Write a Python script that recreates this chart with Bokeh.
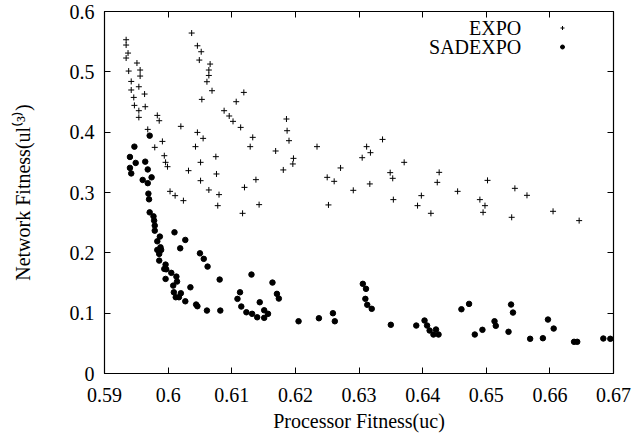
from bokeh.plotting import figure
from bokeh.models import (FixedTicker, LinearAxis, Legend, LegendItem, Label, Range1d)
from bokeh.embed import file_html
from bokeh.resources import INLINE

# ---------------- data ----------------
expo_x = [0.5934, 0.5934, 0.5937, 0.5934, 0.5951, 0.5938, 0.5956, 0.5942, 0.5956, 0.5942,
          0.5954, 0.5946, 0.5963, 0.5947, 0.5964, 0.5954, 0.5954, 0.5983, 0.5986, 0.5968,
          0.5991, 0.5979, 0.5994, 0.5996, 0.5999, 0.6003, 0.6011, 0.6024, 0.6037, 0.6046,
          0.6052, 0.6049, 0.6066, 0.6064, 0.6064, 0.6061, 0.6069, 0.6053, 0.6088, 0.6096,
          0.6102, 0.6107, 0.6119, 0.6114, 0.6133, 0.6129, 0.6020, 0.6046, 0.6055, 0.6043,
          0.6075, 0.6051, 0.6032, 0.6076, 0.6051, 0.6064, 0.6080, 0.6120, 0.6138, 0.6078,
          0.6117, 0.6143, 0.6186, 0.6187, 0.6190, 0.6169, 0.6234, 0.6197, 0.6196, 0.6181,
          0.6271, 0.6250, 0.6261, 0.6252, 0.6291, 0.6337, 0.6312, 0.6318, 0.6305, 0.6371,
          0.6349, 0.6353, 0.6317, 0.6354, 0.6426, 0.6423, 0.6398, 0.6392, 0.6413, 0.6502,
          0.6455, 0.6490, 0.6498, 0.6495, 0.6545, 0.6564, 0.6540, 0.6605, 0.6646]
expo_y = [0.5532, 0.5444, 0.5311, 0.5229, 0.5146, 0.5013, 0.5030, 0.4841, 0.4930, 0.4699,
          0.4753, 0.4576, 0.4632, 0.4444, 0.4422, 0.4356, 0.4245, 0.4278, 0.4190, 0.4046,
          0.3847, 0.3748, 0.3610, 0.3500, 0.3428, 0.3019, 0.2948, 0.2865, 0.5643, 0.5432,
          0.5333, 0.5195, 0.5129, 0.5030, 0.4940, 0.4836, 0.4687, 0.4543, 0.4356, 0.4268,
          0.4179, 0.4505, 0.4659, 0.4079, 0.3914, 0.3760, 0.4096, 0.3996, 0.3897, 0.3760,
          0.3594, 0.3500, 0.3362, 0.3307, 0.3196, 0.3042, 0.2965, 0.3085, 0.3213, 0.2782,
          0.2655, 0.2799, 0.4218, 0.4024, 0.3859, 0.3688, 0.3760, 0.3566, 0.3473, 0.3374,
          0.3407, 0.3251, 0.3185, 0.2794, 0.3036, 0.3880, 0.3760, 0.3660, 0.3577, 0.3500,
          0.3329, 0.3235, 0.3142, 0.2882, 0.3334, 0.3168, 0.2948, 0.2782, 0.2655, 0.3201,
          0.3019, 0.2882, 0.2782, 0.2671, 0.3069, 0.2953, 0.2589, 0.2688, 0.2534]

sadexpo_x = [0.5971, 0.5947, 0.5940, 0.5964, 0.5949, 0.5940, 0.5968, 0.5942, 0.5974, 0.5960,
             0.5968, 0.5969, 0.5970, 0.5971, 0.5977, 0.5978, 0.5979, 0.5979, 0.5987, 0.5983,
             0.5988, 0.5983, 0.5989, 0.5986, 0.5986, 0.5996, 0.5997, 0.5994, 0.5996, 0.6005,
             0.6013, 0.6014, 0.6008, 0.6009, 0.6012, 0.6017, 0.6020, 0.6027, 0.6035, 0.6010,
             0.6019, 0.6027, 0.6044, 0.6046, 0.6061, 0.6082, 0.6081, 0.6050, 0.6056, 0.6062,
             0.6109, 0.6113, 0.6115, 0.6123, 0.6132, 0.6140, 0.6131, 0.6144, 0.6151, 0.6157,
             0.6151, 0.6164, 0.6171, 0.6174, 0.6205, 0.6237, 0.6259, 0.6262, 0.6306, 0.6311,
             0.6310, 0.6313, 0.6320, 0.6350, 0.6390, 0.6403, 0.6407, 0.6411, 0.6417, 0.6421,
             0.6425, 0.6461, 0.6473, 0.6482, 0.6494, 0.6513, 0.6515, 0.6535, 0.6539, 0.6542,
             0.6569, 0.6589, 0.6597, 0.6606, 0.6638, 0.6643, 0.6684, 0.6695]
sadexpo_y = [0.3942, 0.3760, 0.3589, 0.3511, 0.3490, 0.3408, 0.3382, 0.3316, 0.3251, 0.3208,
             0.3155, 0.2981, 0.2887, 0.2671, 0.2605, 0.2534, 0.2451, 0.2368, 0.2269, 0.2191,
             0.2092, 0.2049, 0.2049, 0.1982, 0.1871, 0.1805, 0.1727, 0.1734, 0.1568, 0.1668,
             0.1606, 0.1524, 0.1457, 0.1346, 0.1264, 0.1264, 0.1330, 0.1197, 0.1429, 0.2340,
             0.2075, 0.2214, 0.1143, 0.1115, 0.1043, 0.1043, 0.1557, 0.1992, 0.1900, 0.1772,
             0.1237, 0.1346, 0.1110, 0.1015, 0.0989, 0.0932, 0.1640, 0.1181, 0.1048, 0.0989,
             0.0922, 0.1507, 0.1320, 0.1242, 0.0866, 0.0916, 0.0999, 0.0866, 0.1486, 0.1403,
             0.1237, 0.1138, 0.1072, 0.0807, 0.0795, 0.0878, 0.0795, 0.0712, 0.0646, 0.0729,
             0.0646, 0.1065, 0.1154, 0.0646, 0.0724, 0.0866, 0.0790, 0.0691, 0.1143, 0.1010,
             0.0575, 0.0585, 0.0894, 0.0745, 0.0525, 0.0525, 0.0580, 0.0575]

x_ticks = [0.59, 0.60, 0.61, 0.62, 0.63, 0.64, 0.65, 0.66, 0.67]
x_tick_labels = ["0.59", "0.6", "0.61", "0.62", "0.63", "0.64", "0.65", "0.66", "0.67"]
y_ticks = [0.0, 0.1, 0.2, 0.3, 0.4, 0.5, 0.6]
y_tick_labels = ["0", "0.1", "0.2", "0.3", "0.4", "0.5", "0.6"]

series_names = ["EXPO", "SADEXPO"]
x_title = "Processor Fitness(uc)"
y_title = "Network Fitness(ul\u207d\u00b3\u207e)"

FONT = "Liberation Serif"
FS = "20px"

# ---------------- figure ----------------
p = figure(width=635, height=439, output_backend="svg", toolbar_location=None,
           x_range=Range1d(0.59, 0.67), y_range=Range1d(0.0, 0.6),
           min_border_left=104, min_border_right=22, min_border_top=11, min_border_bottom=66,
           x_axis_location=None, y_axis_location=None)
p.grid.visible = False
p.outline_line_color = "black"
p.outline_line_width = 1.2
p.background_fill_color = "white"
p.border_fill_color = "white"

def style_axis(ax, ticks, labels, show_labels):
    ax.ticker = FixedTicker(ticks=ticks)
    ax.major_tick_in = 6
    ax.major_tick_out = 0
    ax.minor_tick_line_color = None
    ax.major_tick_line_color = "black"
    ax.major_tick_line_width = 1
    ax.axis_line_color = None
    ax.major_label_text_font = FONT
    ax.major_label_text_color = "black"
    if show_labels:
        ax.major_label_overrides = {t: l for t, l in zip(ticks, labels)}
        ax.major_label_text_font_size = FS
    else:
        ax.major_label_overrides = {t: "" for t in ticks}
        ax.major_label_text_font_size = "0px"
        ax.major_label_standoff = 0
    ax.axis_label_text_font = FONT
    ax.axis_label_text_font_style = "normal"
    ax.axis_label_text_font_size = FS
    ax.axis_label_text_color = "black"

xb = LinearAxis(axis_label=x_title)
style_axis(xb, x_ticks, x_tick_labels, True)
xb.major_label_standoff = 14
xb.axis_label_standoff = 5
p.add_layout(xb, "below")

yl = LinearAxis(axis_label=y_title)
style_axis(yl, y_ticks, y_tick_labels, True)
yl.major_label_standoff = 10
yl.axis_label_standoff = 33
p.add_layout(yl, "left")

xt = LinearAxis()
style_axis(xt, x_ticks, x_tick_labels, False)
p.add_layout(xt, "above")

yr = LinearAxis()
style_axis(yr, y_ticks, y_tick_labels, False)
p.add_layout(yr, "right")

r_expo = p.scatter(expo_x, expo_y, marker="cross", size=6, line_color="black", line_width=1)
r_sad = p.scatter(sadexpo_x, sadexpo_y, marker="circle", size=5.5, fill_color="black",
                  line_color="black")

legend = Legend(items=[LegendItem(label=" ", renderers=[r_expo]),
                       LegendItem(label=" ", renderers=[r_sad])],
                location=(453, 317), padding=0, margin=0, spacing=0,
                glyph_width=10, glyph_height=19, label_height=19, label_width=0,
                label_standoff=0, label_text_font_size="1px",
                border_line_color=None, background_fill_alpha=0)
p.add_layout(legend)

for name, ly in zip(series_names, [0.5730, 0.5416]):
    p.add_layout(Label(x=0.6555, y=ly, text=name, text_align="right", text_baseline="middle",
                       text_font=FONT, text_font_size=FS, text_color="black"))

open("out.html", "w").write(file_html(p, INLINE))
